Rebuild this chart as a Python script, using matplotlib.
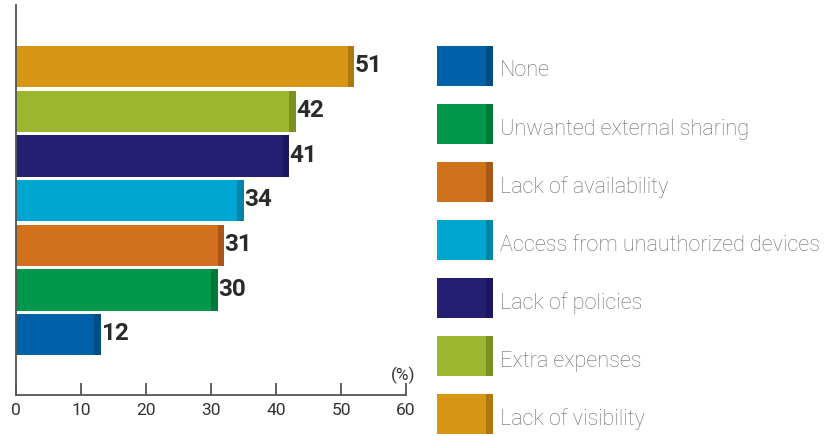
import matplotlib
matplotlib.use("Agg")
import matplotlib.pyplot as plt
from matplotlib.patches import Rectangle

categories = ["None", "Unwanted external sharing", "Lack of availability",
              "Access from unauthorized devices", "Lack of policies",
              "Extra expenses", "Lack of visibility"]
values = [12, 30, 31, 34, 41, 42, 51]
colors = ["#0060A8", "#00974A", "#D2711C", "#00A5D0", "#241F72", "#9CB72F", "#D89616"]
dark_colors = ["#004C85", "#007A3A", "#A8561A", "#0085A8", "#1C1660", "#7A9020", "#AE780C"]
xticks = [0, 10, 20, 30, 40, 50, 60]

W, H = 824, 436
fig = plt.figure(figsize=(W / 100, H / 100), dpi=100)
plt.rcParams['font.family'] = ['Roboto', 'DejaVu Sans']

ax = fig.add_axes([16 / W, (H - 395) / H, (406 - 16) / W, (395 - 5) / H])
pos = list(range(len(values)))
cap = 1.0
hgt = 0.92
ax.barh(pos, values, height=hgt, color=colors, linewidth=0)
ax.barh(pos, [cap] * len(values), left=values, height=hgt, color=dark_colors, linewidth=0)
for p, v in zip(pos, values):
    ax.text(v + cap + 0.1, p + 0.02, str(v), va='center', ha='left', fontsize=17.5,
            fontweight='bold', color='#2a2a2a')

ax.set_xlim(0, 60)
ax.set_ylim(-1.35, 7.38)
ax.set_yticks([])
ax.set_xticks(xticks)
ax.set_xticklabels([str(t) for t in xticks], fontsize=12.5, color='#333333')
ax.tick_params(axis='x', direction='in', length=9, width=1.3, color='#555555', pad=6)
for s in ['top', 'right']:
    ax.spines[s].set_visible(False)
for s in ['left', 'bottom']:
    ax.spines[s].set_color('#555555')
    ax.spines[s].set_linewidth(1.3)
ax.text(59.6, -0.9, "(%)", ha='center', va='center', fontsize=12.5, color='#333333')

# legend
lax = fig.add_axes([0, 0, 1, 1])
lax.set_xlim(0, W)
lax.set_ylim(H, 0)
lax.axis('off')
for i, (lab, c, dc) in enumerate(zip(categories, colors, dark_colors)):
    y0 = 46 + i * 58
    lax.add_patch(Rectangle((437, y0), 49, 40, facecolor=c, linewidth=0))
    lax.add_patch(Rectangle((486, y0), 7, 40, facecolor=dc, linewidth=0))
    lax.text(500, y0 + 25, lab, ha='left', va='center', fontsize=15.6,
             fontweight='light', color='#6b6b6b')

fig.savefig("out.png", dpi=100)
